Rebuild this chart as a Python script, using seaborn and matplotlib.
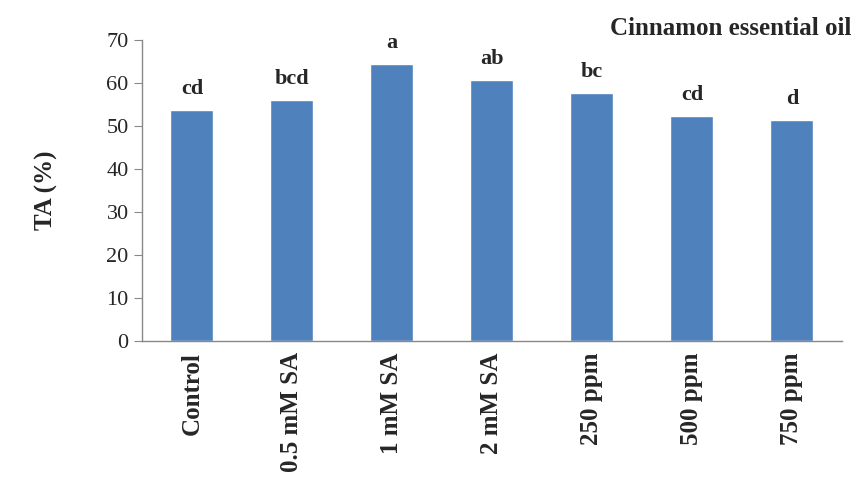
import pandas as pd
import seaborn as sns
import matplotlib
matplotlib.use('Agg')
import matplotlib.pyplot as plt

# Data
treatments = ['Control', '0.5 mM SA', '1 mM SA', '2 mM SA', '250 ppm', '500 ppm', '750 ppm']
ta_values = [53.6, 56.0, 64.4, 60.7, 57.6, 52.3, 51.4]
letters = ['cd', 'bcd', 'a', 'ab', 'bc', 'cd', 'd']

df = pd.DataFrame({'Treatment': treatments, 'TA': ta_values})

sns.set_style('white')
plt.rcParams['font.family'] = ['Liberation Serif', 'DejaVu Serif']

fig = plt.figure(figsize=(8.6, 4.86), dpi=100)
ax = fig.add_axes([0.165, 0.298, 0.814, 0.62])

sns.barplot(data=df, x='Treatment', y='TA', color='#4F81BD', saturation=1,
            width=0.43, ax=ax)

# significance letters above bars
for i, (v, lab) in enumerate(zip(ta_values, letters)):
    ax.text(i, v + 2.6, lab, ha='center', va='bottom', fontsize=16, fontweight='bold')

ax.set_ylim(0, 70)
ax.set_xlim(-0.5, len(treatments) - 0.5)
ax.set_yticks(range(0, 71, 10))
ax.set_xticks([x - 0.5 for x in range(len(treatments) + 1)], minor=True)
ax.set_xticks(range(len(treatments)))
ax.set_xticklabels(treatments, rotation=90, fontsize=18, fontweight='bold')
ax.tick_params(axis='x', which='major', length=0, pad=8)
ax.tick_params(axis='x', which='minor', length=6, color='#888888', direction='out')
ax.tick_params(axis='y', length=6, color='#888888', direction='out', labelsize=16, left=True)

for s in ['top', 'right']:
    ax.spines[s].set_visible(False)
for s in ['left', 'bottom']:
    ax.spines[s].set_color('#888888')
    ax.spines[s].set_linewidth(1)

ax.set_xlabel('')
ax.set_ylabel('TA (%)', fontsize=18, fontweight='bold', labelpad=35)

fig.text(0.99, 0.942, 'Cinnamon essential oil', ha='right', va='center',
         fontsize=18, fontweight='bold')

fig.savefig('out.png', dpi=100)
